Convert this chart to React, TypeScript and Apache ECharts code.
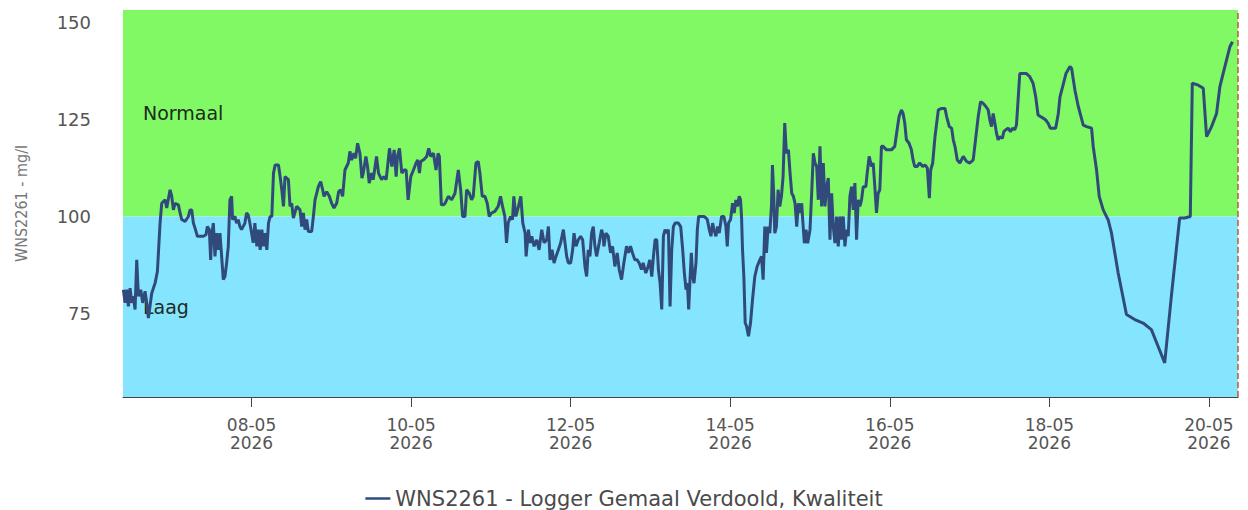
import React, { useEffect, useRef } from "react";
import * as echarts from "echarts";

// Hours since 2026-05-06 00:00 (local time) and measured values (mg/l)
const hours: number[] = [
  9.45, 9.95, 10.45, 10.96, 11.46, 11.96, 12.46, 12.96, 13.46, 13.96, 14.66, 15.27, 15.97, 16.47, 16.97, 17.97, 18.98, 19.68, 20.48, 20.98,
  21.98, 22.48, 23.49, 23.99, 24.49, 24.99, 25.99, 26.5, 27.0, 28.0, 29.0, 29.5, 30.0, 30.5, 31.0, 31.7, 32.5, 33.5, 34.3, 34.7,
  35.3, 35.7, 36.0, 36.5, 37.0, 37.5, 38.0, 38.5, 39.0, 39.5, 40.0, 40.5, 41.0, 41.5, 42.0, 42.3, 43.0, 43.5, 44.0, 44.5,
  45.0, 46.0, 46.5, 47.0, 47.5, 48.5, 49.0, 49.6, 50.1, 50.6, 51.1, 51.6, 52.1, 52.6, 53.1, 53.6, 54.1, 54.6, 55.1, 56.1,
  56.6, 57.1, 57.6,
  58.07, 59.08, 59.58, 60.08, 60.58, 61.58, 62.59, 63.09, 63.59, 64.09, 64.59, 65.09, 66.09, 66.6, 67.1, 68.1, 68.8, 69.4, 69.8, 70.6,
  71.4, 72.1, 72.8, 73.6, 74.2, 74.8, 75.4, 76.1, 77.1, 77.6, 78.1, 78.8, 79.3, 79.9, 80.6, 81.2, 81.6, 82.4, 82.9, 83.4,
  84.1, 84.6, 85.6, 86.2, 87.1, 87.8, 88.5, 89.5, 90.2, 90.9, 91.5, 91.9, 92.5, 93.2, 93.9, 94.5, 95.1, 95.9, 96.7, 97.5,
  98.0, 98.5, 98.9, 99.7, 100.7, 101.3, 101.9, 102.7, 103.5, 104.1, 104.5, 105.1, 105.7,
  106.2, 107.2, 108.2, 109.2, 110.2, 110.9, 111.5, 112.2, 112.7, 113.5, 114.2, 114.7, 115.5, 116.2, 116.7, 117.4, 118.2, 118.9, 119.5, 120.2,
  121.2, 122.2, 122.9, 123.5, 124.2, 124.7, 125.2, 125.9, 126.5, 126.9, 127.5, 128.3, 129.0, 129.6, 130.3, 130.6, 131.3, 131.8, 132.3, 133.0,
  133.8, 134.5, 135.3, 136.0, 136.8, 137.3, 137.8, 138.4, 139.0, 139.6, 140.3, 141.0, 141.8, 142.3, 142.8, 143.3, 144.0, 144.6, 145.0, 145.6,
  146.3, 147.0, 147.6, 148.3, 148.8, 149.3, 149.8, 150.3, 150.8, 151.3, 151.8, 152.6, 153.3, 153.8,
  154.0, 154.6, 155.3, 156.0, 156.6, 157.3, 158.0, 158.6, 159.3, 160.0, 160.8, 161.4, 162.0, 162.6, 163.3, 164.0, 164.6, 165.3, 165.8, 166.6,
  167.3, 167.8, 168.4, 168.9, 169.4, 169.9, 170.4, 170.9, 171.4, 171.9, 172.4, 172.9, 173.4, 173.9, 174.4, 174.9, 175.4, 176.4, 177.1, 177.7,
  178.2, 178.7, 179.1, 179.5, 179.9, 180.3, 180.7, 181.1, 181.7, 182.1, 182.5, 183.4, 184.1, 184.7, 185.1, 185.7, 186.2, 186.7, 187.1, 187.7,
  188.2, 188.7, 189.4, 190.1, 190.7, 191.1, 191.5, 192.1, 192.7, 193.2, 193.7, 194.2, 194.7, 195.1, 195.4, 195.7, 196.1, 196.5, 196.9, 197.5,
  198.1, 198.7, 199.4, 200.1, 200.9,
  201.4, 201.9, 202.4, 202.9, 203.4, 203.9, 204.4, 204.7, 205.1, 205.4, 205.9, 206.4, 206.9, 207.4, 207.9, 208.4, 208.9, 209.5, 210.0, 210.5,
  211.0, 211.5, 212.0, 212.5, 213.0, 213.5, 213.8, 214.3, 214.8, 215.3, 216.0, 216.5, 217.0, 217.5, 218.0, 218.5, 219.0, 219.5, 220.0, 220.5,
  221.0, 221.5, 222.0, 222.5, 223.0, 223.5, 224.0, 224.5, 225.0, 225.5, 226.0, 226.5, 227.0, 227.5, 228.0, 228.5, 229.0, 229.5, 230.0, 230.5,
  231.0, 231.5, 232.0, 232.8, 233.2, 233.8, 234.5, 235.0, 235.5, 236.0, 236.5, 237.0, 237.5, 238.0, 239.0, 240.5, 241.5, 242.2, 242.8, 243.5,
  244.0, 244.5, 245.0, 245.8, 246.5, 247.0, 247.5, 248.2, 249.0,
  249.9, 250.6, 251.3, 251.9, 252.3, 252.9, 253.6, 254.6, 255.6, 256.6, 257.1, 257.9, 258.6, 259.1, 259.6, 260.3, 261.1, 262.1, 263.1, 264.1,
  265.1, 265.9, 266.6, 267.3, 268.1, 268.9, 269.6, 270.1, 270.6, 271.1, 271.6, 272.1, 272.6, 273.1, 273.9, 274.3, 274.9, 275.6, 276.3, 276.9,
  277.6, 278.1, 278.6, 279.1, 280.1, 281.1, 282.1, 283.1, 283.9, 284.6, 285.3, 286.1, 286.9, 287.6, 288.3, 289.1, 289.9, 290.7, 291.2, 292.0,
  293.0, 294.2,
  294.7, 295.7, 296.7, 298.2, 299.2, 300.7, 301.2, 302.2, 303.0, 304.2, 305.7, 306.7, 308.7, 311.2, 313.7, 316.2, 318.7, 320.7, 322.7, 324.7,
  327.2, 328.7, 330.4, 331.0, 332.8, 334.3, 335.3, 336.8, 338.3, 339.3, 340.8, 342.3, 343.1,
];

const values: number[] = [
  81.1, 77.7, 81.1, 76.8, 81.5, 77.7, 79.4, 76.0, 88.8, 79.4, 81.1, 77.7, 80.7, 77.7, 73.8, 80.2, 82.8, 85.8, 98.3, 103.4,
  104.3, 102.2, 106.9, 105.2, 101.7, 103.4, 103.0, 100.9, 99.2, 98.7, 100.0, 101.7, 101.7, 98.3, 97.0, 94.9, 94.9, 94.9, 95.3, 97.4,
  96.6, 88.8, 94.9, 98.3, 89.7, 95.7, 91.4, 95.7, 89.7, 83.7, 84.5, 88.0, 92.3, 104.3, 105.2, 99.2, 100.0, 98.3, 99.2, 97.4,
  96.6, 98.3, 100.9, 100.4, 98.3, 93.2, 98.3, 92.3, 96.6, 91.4, 96.6, 92.3, 95.7, 91.4, 98.3, 100.0, 100.0, 111.2, 113.3, 113.3,
  110.3, 106.9, 102.6,
  110.3, 109.5, 102.6, 103.4, 99.6, 102.6, 101.7, 97.4, 100.9, 96.6, 99.2, 96.1, 96.1, 100.0, 104.3, 107.7, 109.0, 106.9, 105.2, 106.4,
  105.2, 103.4, 102.2, 103.4, 106.4, 106.9, 105.2, 112.0, 113.8, 116.8, 114.6, 116.3, 115.0, 118.9, 116.3, 109.9, 111.2, 115.5, 112.9, 108.6,
  111.2, 109.5, 115.5, 111.2, 109.5, 110.3, 109.5, 117.6, 112.9, 117.2, 110.3, 115.5, 117.6, 111.2, 112.0, 112.0, 104.3, 110.3, 112.0, 113.8,
  114.6, 111.2, 114.2, 114.6, 115.5, 117.6, 115.5, 116.3, 112.0, 116.3, 115.5, 103.0, 103.0,
  103.4, 105.2, 104.3, 106.0, 112.0, 106.9, 100.0, 100.0, 106.9, 106.0, 104.3, 105.2, 113.8, 114.2, 111.2, 105.2, 105.2, 103.4, 100.0, 100.9,
  101.3, 102.6, 105.2, 102.6, 100.0, 93.2, 98.3, 100.0, 99.2, 105.2, 100.0, 102.6, 105.2, 98.3, 95.7, 89.7, 96.6, 93.2, 94.9, 92.3,
  94.0, 91.4, 96.6, 93.2, 94.0, 97.4, 88.8, 91.4, 88.0, 89.7, 91.4, 93.2, 96.6, 93.2, 89.7, 88.0, 88.0, 91.4, 95.7, 92.3,
  94.0, 94.9, 94.0, 87.1, 84.5, 91.4, 89.7, 95.7, 97.4, 92.3, 89.7, 93.2, 96.6, 94.9,
  92.3, 95.7, 94.9, 90.6, 92.3, 87.1, 90.6, 86.3, 83.7, 88.0, 92.3, 90.6, 92.3, 90.6, 88.8, 88.8, 88.0, 86.3, 88.0, 85.4,
  87.1, 88.8, 84.5, 89.7, 94.0, 94.0, 86.3, 82.8, 76.0, 94.9, 96.6, 95.7, 96.6, 76.8, 91.4, 97.4, 98.3, 98.3, 97.4, 91.4,
  85.4, 81.1, 82.8, 76.0, 83.7, 90.6, 84.5, 82.8, 88.0, 96.6, 100.0, 100.0, 100.0, 99.6, 99.2, 96.6, 94.9, 98.3, 96.6, 94.9,
  97.4, 95.7, 100.0, 100.0, 97.4, 92.3, 98.3, 99.2, 103.4, 100.9, 104.3, 102.6, 105.2, 104.3, 100.0, 91.4, 84.5, 72.5, 71.7, 69.1,
  72.5, 78.5, 84.5, 87.1, 88.8,
  89.7, 83.7, 97.4, 90.6, 97.4, 95.7, 102.6, 113.3, 105.2, 95.7, 97.4, 106.9, 102.6, 105.2, 110.3, 124.1, 116.3, 117.2, 111.2, 106.0,
  105.2, 103.4, 97.4, 103.4, 100.9, 103.4, 99.2, 93.1, 96.6, 93.1, 96.6, 106.0, 116.3, 113.8, 112.9, 104.3, 118.1, 102.6, 113.8, 102.6,
  107.7, 109.9, 94.0, 106.0, 97.4, 93.1, 100.0, 92.3, 100.0, 94.0, 100.0, 92.3, 96.6, 94.9, 105.2, 107.7, 101.7, 108.6, 94.0, 104.3,
  102.6, 104.3, 107.7, 107.7, 111.2, 115.5, 112.9, 113.8, 107.7, 100.9, 106.0, 106.9, 118.1, 118.1, 117.2, 117.2, 118.1, 122.4, 125.8, 127.5,
  126.6, 124.1, 119.8, 118.9, 117.2, 114.6, 112.9, 112.9, 113.8,
  112.9, 113.3, 112.5, 104.7, 112.0, 113.8, 120.6, 127.5, 127.9, 127.9, 125.8, 123.2, 122.8, 119.8, 118.1, 114.6, 113.8, 115.5, 114.2, 113.8,
  114.6, 120.6, 125.8, 129.6, 129.2, 128.4, 127.5, 124.9, 123.2, 126.6, 124.1, 121.5, 119.8, 120.6, 120.2, 121.9, 122.4, 122.8, 121.9, 122.8,
  122.4, 123.6, 130.1, 136.9, 136.9, 136.9, 136.1, 134.4, 130.9, 126.2, 125.8, 125.4, 124.9, 124.1, 122.8, 122.8, 122.8, 126.6, 130.9, 133.5,
  136.9, 138.7,
  138.2, 132.6, 128.4, 123.6, 123.2, 122.8, 118.0, 112.0, 105.2, 101.7, 99.1, 95.7, 85.4, 74.7, 73.4, 72.5, 70.8, 66.5, 62.2, 79.4,
  99.6, 99.6, 100.0, 134.4, 133.9, 133.1, 120.6, 123.2, 126.6, 133.5, 138.7, 143.8, 145.1,
];

const seriesName = "WNS2261 - Logger Gemaal Verdoold, Kwaliteit";
const yAxisName = "WNS2261 - mg/l";
const yTickValues: number[] = [75, 100, 125, 150];
const xTickDays: number[] = [8, 10, 12, 14, 16, 18, 20];
const bandNames: string[] = ["Normaal", "Laag"];
const bandLimit = 100;
const yMin = 53.4;
const yMax = 153.3;
const axisMinHour = 9.33;
const axisMaxHour = 344.75;
const nowHour = 344.6;

const START = new Date(2026, 4, 6, 0, 0, 0).getTime();
const toTs = (h: number) => START + h * 3600 * 1000;

const pad = (n: number) => (n < 10 ? "0" + n : "" + n);

export default function App() {
  const ref = useRef<HTMLDivElement>(null);

  useEffect(() => {
    if (!ref.current) return;
    const chart = echarts.init(ref.current, undefined, { renderer: "svg" });
    const data = hours.map((h, i) => [toTs(h), values[i]]);
    const xTicks = xTickDays.map((d) => new Date(2026, 4, d, 0, 0, 0).getTime());
    const font = "DejaVu Sans, Liberation Sans, sans-serif";

    chart.setOption({
      animation: false,
      backgroundColor: "#ffffff",
      grid: { left: 123, right: 10, top: 10, bottom: 113 },
      legend: {
        left: "center",
        top: 483,
        itemWidth: 25,
        itemHeight: 14,
        itemGap: 10,
        textStyle: { fontFamily: font, fontSize: 21, color: "#4a4a4a" },
        data: [{ name: seriesName, icon: "path://M0,6 L25,6 L25,8.5 L0,8.5 Z" }],
      },
      xAxis: {
        type: "value",
        min: toTs(axisMinHour),
        max: toTs(axisMaxHour),
        scale: true,
        axisLine: { show: true, lineStyle: { color: "#444", width: 1 } },
        axisTick: { show: true, length: 10, customValues: xTicks, lineStyle: { color: "#444" } },
        splitLine: { show: false },
        axisLabel: {
          customValues: xTicks,
          margin: 19,
          fontFamily: font,
          fontSize: 17,
          lineHeight: 18,
          color: "#555",
          formatter: (v: number) => {
            const d = new Date(v);
            return pad(d.getDate()) + "-" + pad(d.getMonth() + 1) + "\n" + d.getFullYear();
          },
        },
      },
      yAxis: {
        type: "value",
        min: yMin,
        max: yMax,
        name: yAxisName,
        nameLocation: "middle",
        nameGap: 94,
        nameTextStyle: {
          fontFamily: "Liberation Sans Narrow, DejaVu Sans Condensed, sans-serif",
          fontSize: 16,
          color: "#777",
        },
        axisLine: { show: false },
        axisTick: { show: false },
        splitLine: { show: false },
        axisLabel: {
          customValues: yTickValues,
          margin: 32,
          fontFamily: font,
          fontSize: 18,
          color: "#555",
        },
      },
      series: [
        {
          name: seriesName,
          type: "line",
          data,
          symbol: "none",
          showSymbol: false,
          lineStyle: { color: "#304a7c", width: 3 },
          itemStyle: { color: "#304a7c" },
          z: 5,
          markArea: {
            silent: true,
            data: [
              [
                {
                  name: bandNames[0],
                  yAxis: bandLimit,
                  itemStyle: { color: "#80f964", opacity: 1 },
                },
                { yAxis: yMax },
              ],
              [
                {
                  name: bandNames[1],
                  yAxis: yMin,
                  itemStyle: { color: "#85e5ff", opacity: 1 },
                },
                { yAxis: bandLimit },
              ],
            ],
            label: {
              show: true,
              position: "insideLeft",
              distance: 20,
              fontFamily: font,
              fontSize: 19,
              color: "#1e2a1e",
            },
          },
          markLine: {
            silent: true,
            symbol: "none",
            label: { show: false },
            lineStyle: { color: "#c05a3c", type: "dashed", width: 1.5 },
            data: [{ xAxis: toTs(nowHour) }],
          },
        },
      ],
    });

    return () => chart.dispose();
  }, []);

  return (
    <div
      ref={ref}
      style={{ position: "fixed", left: 0, top: 0, width: 1248, height: 510 }}
    />
  );
}
